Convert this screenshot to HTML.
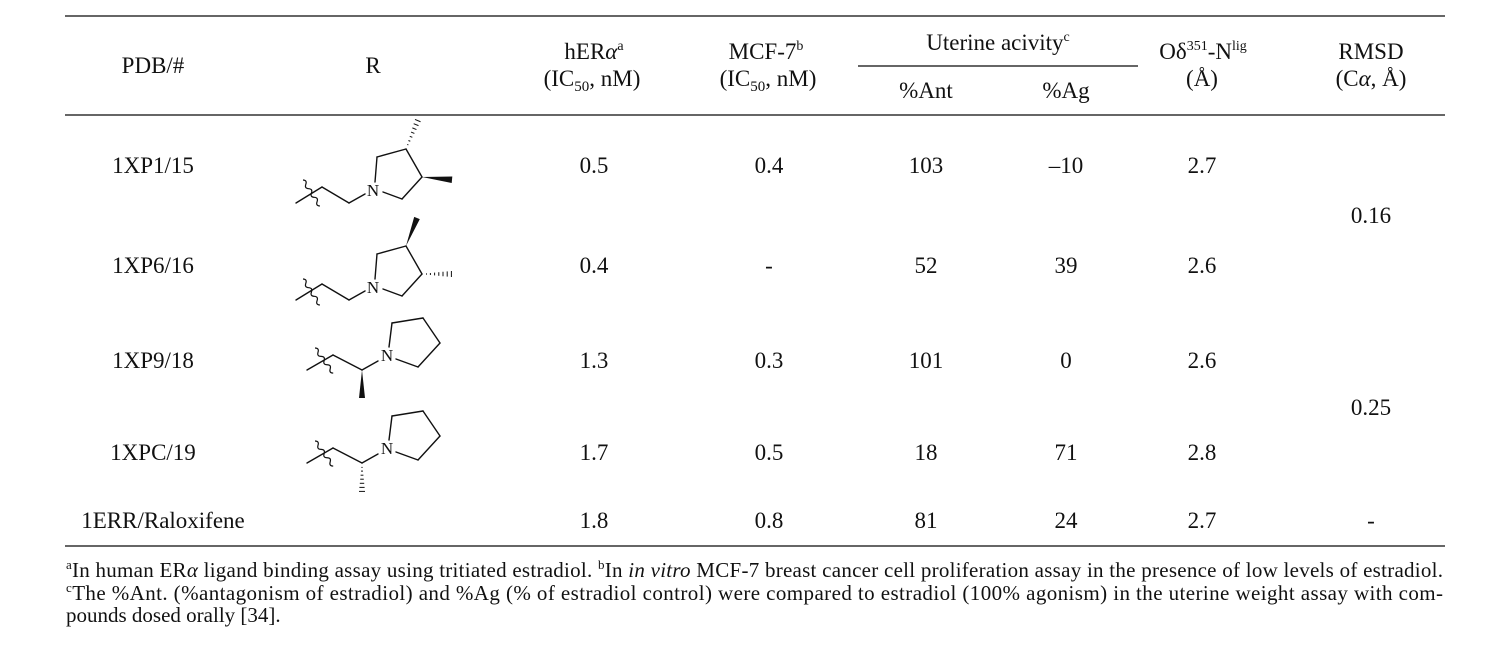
<!DOCTYPE html>
<html>
<head>
<meta charset="utf-8">
<style>
  html,body{margin:0;padding:0;background:#fff;}
  svg{display:block;}
  text{font-family:"Liberation Serif","DejaVu Serif",serif;fill:#111;}
</style>
</head>
<body>
<svg width="1504" height="658" viewBox="0 0 1504 658" xmlns="http://www.w3.org/2000/svg">
  <rect x="0" y="0" width="1504" height="658" fill="#fff"/>

  <!-- rules -->
  <g stroke="#333" stroke-width="1.6">
    <line x1="65" y1="16" x2="1445" y2="16"/>
    <line x1="858" y1="66" x2="1138" y2="66"/>
    <line x1="65" y1="115" x2="1445" y2="115"/>
    <line x1="65" y1="546" x2="1445" y2="546"/>
  </g>

  <!-- header -->
  <g font-size="23" text-anchor="middle">
    <text x="153" y="73">PDB/#</text>
    <text x="373" y="73">R</text>
    <text x="594" y="59">hER<tspan font-style="italic">α</tspan><tspan font-size="14" dy="-9">a</tspan></text>
    <text x="592" y="86">(IC<tspan font-size="15" dy="5">50</tspan><tspan dy="-5">, nM)</tspan></text>
    <text x="766" y="59">MCF-7<tspan font-size="14" dy="-9">b</tspan></text>
    <text x="768" y="86">(IC<tspan font-size="15" dy="5">50</tspan><tspan dy="-5">, nM)</tspan></text>
    <text x="998" y="50">Uterine acivity<tspan font-size="14" dy="-9">c</tspan></text>
    <text x="926" y="98">%Ant</text>
    <text x="1066" y="98">%Ag</text>
    <text x="1203" y="59">Oδ<tspan font-size="14" dy="-9">351</tspan><tspan dy="9">-N</tspan><tspan font-size="14" dy="-9">lig</tspan></text>
    <text x="1202" y="86">(Å)</text>
    <text x="1371" y="59">RMSD</text>
    <text x="1371" y="86">(C<tspan font-style="italic">α</tspan>, Å)</text>
  </g>

  <!-- data rows -->
  <g font-size="23" text-anchor="middle">
    <text x="153" y="173">1XP1/15</text>
    <text x="594" y="173">0.5</text>
    <text x="769" y="173">0.4</text>
    <text x="926" y="173">103</text>
    <text x="1066" y="173">–10</text>
    <text x="1202" y="173">2.7</text>

    <text x="153" y="273">1XP6/16</text>
    <text x="594" y="273">0.4</text>
    <text x="769" y="273">-</text>
    <text x="926" y="273">52</text>
    <text x="1066" y="273">39</text>
    <text x="1202" y="273">2.6</text>

    <text x="1371" y="223">0.16</text>

    <text x="153" y="368">1XP9/18</text>
    <text x="594" y="368">1.3</text>
    <text x="769" y="368">0.3</text>
    <text x="926" y="368">101</text>
    <text x="1066" y="368">0</text>
    <text x="1202" y="368">2.6</text>

    <text x="1371" y="415">0.25</text>

    <text x="153" y="460">1XPC/19</text>
    <text x="594" y="460">1.7</text>
    <text x="769" y="460">0.5</text>
    <text x="926" y="460">18</text>
    <text x="1066" y="460">71</text>
    <text x="1202" y="460">2.8</text>

    <text x="163" y="528">1ERR/Raloxifene</text>
    <text x="594" y="528">1.8</text>
    <text x="769" y="528">0.8</text>
    <text x="926" y="528">81</text>
    <text x="1066" y="528">24</text>
    <text x="1202" y="528">2.7</text>
    <text x="1371" y="528">-</text>
  </g>

  <!-- structures 1 & 2: pyrrolidine ethyl -->
  <g>
    <g stroke="#111" stroke-width="1.4" fill="none" stroke-linecap="round">
      <line x1="296" y1="203" x2="322" y2="187"/>
      <line x1="322" y1="187" x2="349" y2="203"/>
      <line x1="349" y1="203" x2="365" y2="194"/>
      <line x1="375" y1="182" x2="377" y2="157"/>
      <line x1="377" y1="157" x2="406" y2="149"/>
      <line x1="406" y1="149" x2="422" y2="177"/>
      <line x1="422" y1="177" x2="402" y2="199"/>
      <line x1="402" y1="199" x2="383" y2="192"/>
    </g>
    <path transform="translate(303,180) rotate(-33)" stroke="#111" stroke-width="1.2" fill="none" d="M0,0 Q3.5,2.58 0,5.17 Q-3.5,7.75 0,10.33 Q3.5,12.9 0,15.5 Q-3.5,18.1 0,20.67 Q3.5,23.25 0,25.83 Q-3.5,28.4 0,31"/>
    <text x="373" y="196" font-size="17" text-anchor="middle">N</text>
    <!-- hash up -->
    <g stroke="#111" stroke-width="1">
      <line x1="407.25" y1="144.42" x2="408.35" y2="144.88"/>
      <line x1="408.44" y1="140.5" x2="410.28" y2="141.26"/>
      <line x1="409.75" y1="136.29" x2="412.33" y2="137.35"/>
      <line x1="411.06" y1="132.07" x2="414.38" y2="133.45"/>
      <line x1="412.37" y1="127.86" x2="416.43" y2="129.54"/>
      <line x1="413.68" y1="123.65" x2="418.48" y2="125.63"/>
      <line x1="414.99" y1="119.43" x2="420.53" y2="121.73"/>
    </g>
    <!-- wedge right -->
    <polygon points="422,177 452.3,176.5 451.7,183" fill="#111"/>
  </g>

  <g transform="translate(0,97)">
    <g stroke="#111" stroke-width="1.4" fill="none" stroke-linecap="round">
      <line x1="296" y1="203" x2="322" y2="187"/>
      <line x1="322" y1="187" x2="349" y2="203"/>
      <line x1="349" y1="203" x2="365" y2="194"/>
      <line x1="375" y1="182" x2="377" y2="157"/>
      <line x1="377" y1="157" x2="406" y2="149"/>
      <line x1="406" y1="149" x2="422" y2="177"/>
      <line x1="422" y1="177" x2="402" y2="199"/>
      <line x1="402" y1="199" x2="383" y2="192"/>
    </g>
    <path transform="translate(303,182) rotate(-33)" stroke="#111" stroke-width="1.2" fill="none" d="M0,0 Q3.5,2.58 0,5.17 Q-3.5,7.75 0,10.33 Q3.5,12.9 0,15.5 Q-3.5,18.1 0,20.67 Q3.5,23.25 0,25.83 Q-3.5,28.4 0,31"/>
    <text x="373" y="196" font-size="17" text-anchor="middle">N</text>
    <!-- wedge up -->
    <polygon points="406,149 419.8,122.1 414.2,119.9" fill="#111"/>
    <!-- hash right -->
    <g stroke="#111" stroke-width="1">
      <line x1="426.5" y1="176.4" x2="426.5" y2="177.6"/>
      <line x1="430.4" y1="176" x2="430.4" y2="178"/>
      <line x1="434.6" y1="175.6" x2="434.6" y2="178.4"/>
      <line x1="438.8" y1="175.2" x2="438.8" y2="178.8"/>
      <line x1="443" y1="174.8" x2="443" y2="179.2"/>
      <line x1="447.2" y1="174.4" x2="447.2" y2="179.6"/>
      <line x1="451.4" y1="174" x2="451.4" y2="180"/>
    </g>
  </g>

  <!-- structures 3 & 4: 2-pyrrolidinylpropyl -->
  <g>
    <g stroke="#111" stroke-width="1.4" fill="none" stroke-linecap="round">
      <line x1="307" y1="370" x2="333" y2="355"/>
      <line x1="333" y1="355" x2="362" y2="370"/>
      <line x1="362" y1="370" x2="378" y2="361"/>
      <line x1="389" y1="347" x2="392" y2="323"/>
      <line x1="392" y1="323" x2="423" y2="318"/>
      <line x1="423" y1="318" x2="440" y2="343"/>
      <line x1="440" y1="343" x2="418" y2="367"/>
      <line x1="418" y1="367" x2="396" y2="359"/>
    </g>
    <path transform="translate(315,348) rotate(-36)" stroke="#111" stroke-width="1.2" fill="none" d="M0,0 Q3.5,2.58 0,5.17 Q-3.5,7.75 0,10.33 Q3.5,12.9 0,15.5 Q-3.5,18.1 0,20.67 Q3.5,23.25 0,25.83 Q-3.5,28.4 0,31"/>
    <text x="387" y="361" font-size="17" text-anchor="middle">N</text>
    <polygon points="362,370 359,398 365,398" fill="#111"/>
  </g>

  <g transform="translate(0,93)">
    <g stroke="#111" stroke-width="1.4" fill="none" stroke-linecap="round">
      <line x1="307" y1="370" x2="333" y2="355"/>
      <line x1="333" y1="355" x2="362" y2="370"/>
      <line x1="362" y1="370" x2="378" y2="361"/>
      <line x1="389" y1="347" x2="392" y2="323"/>
      <line x1="392" y1="323" x2="423" y2="318"/>
      <line x1="423" y1="318" x2="440" y2="343"/>
      <line x1="440" y1="343" x2="418" y2="367"/>
      <line x1="418" y1="367" x2="396" y2="359"/>
    </g>
    <path transform="translate(315,348) rotate(-36)" stroke="#111" stroke-width="1.2" fill="none" d="M0,0 Q3.5,2.58 0,5.17 Q-3.5,7.75 0,10.33 Q3.5,12.9 0,15.5 Q-3.5,18.1 0,20.67 Q3.5,23.25 0,25.83 Q-3.5,28.4 0,31"/>
    <text x="387" y="361" font-size="17" text-anchor="middle">N</text>
    <g stroke="#111" stroke-width="1">
      <line x1="361.4" y1="374.4" x2="362.6" y2="374.4"/>
      <line x1="361" y1="378.1" x2="363" y2="378.1"/>
      <line x1="360.6" y1="382.2" x2="363.4" y2="382.2"/>
      <line x1="360.2" y1="386.2" x2="363.8" y2="386.2"/>
      <line x1="359.8" y1="390.3" x2="364.2" y2="390.3"/>
      <line x1="359.4" y1="394.4" x2="364.6" y2="394.4"/>
      <line x1="359" y1="398.4" x2="365" y2="398.4"/>
    </g>
  </g>

  <!-- footnotes -->
  <g font-size="21">
    <text x="66" y="577" textLength="1377" lengthAdjust="spacing"><tspan font-size="13" dy="-8">a</tspan><tspan dy="8">In human ER</tspan><tspan font-style="italic">α</tspan> ligand binding assay using tritiated estradiol. <tspan font-size="13" dy="-8">b</tspan><tspan dy="8">In </tspan><tspan font-style="italic">in vitro</tspan> MCF-7 breast cancer cell proliferation assay in the presence of low levels of estradiol.</text>
    <text x="66" y="600" textLength="1377" lengthAdjust="spacing"><tspan font-size="13" dy="-8">c</tspan><tspan dy="8">The %Ant. (%antagonism of estradiol) and %Ag (% of estradiol control) were compared to estradiol (100% agonism) in the uterine weight assay with com-</tspan></text>
    <text x="66" y="622">pounds dosed orally [34].</text>
  </g>
</svg>
</body>
</html>
